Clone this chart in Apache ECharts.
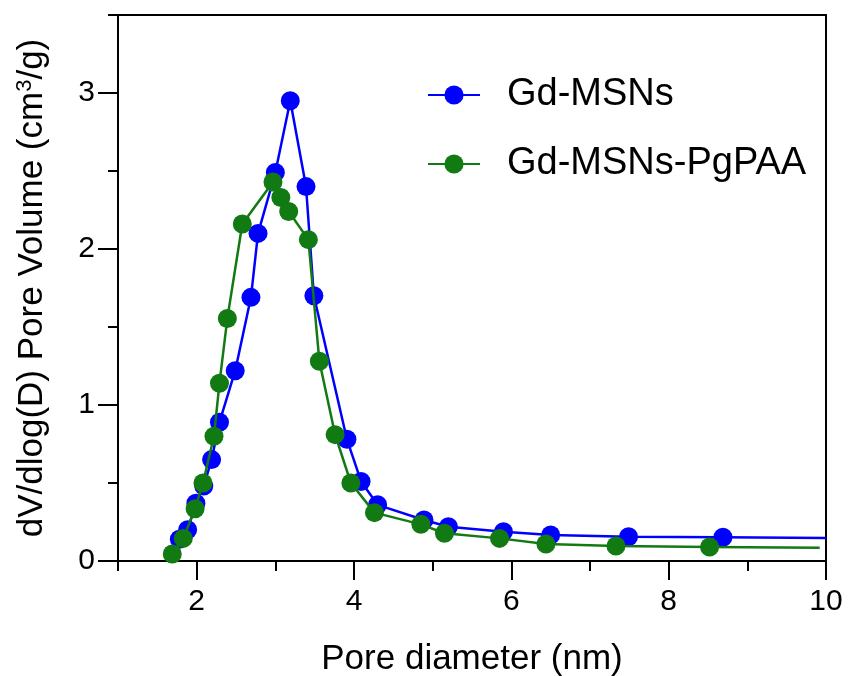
<!DOCTYPE html>
<html>
<head>
<meta charset="utf-8">
<script src="https://cdn.jsdelivr.net/npm/echarts@6/dist/echarts.min.js"></script>
<style>html,body{margin:0;padding:0;background:#fff}#c{width:850px;height:676px}</style>
</head>
<body>
<div id="c"></div>
<script>
// ---- data ----
const seriesNames = ['Gd-MSNs', 'Gd-MSNs-PgPAA'];
const msnX = [1.78, 1.885, 1.99, 2.09, 2.19, 2.29, 2.49, 2.69, 2.78, 3.00, 3.19, 3.39, 3.49, 3.91, 4.09, 4.30, 4.89, 5.20, 5.90, 6.50, 7.49, 8.69, 10.0];
const msnY = [0.14, 0.20, 0.37, 0.48, 0.65, 0.89, 1.22, 1.69, 2.10, 2.49, 2.95, 2.40, 1.70, 0.78, 0.51, 0.36, 0.263, 0.22, 0.188, 0.167, 0.156, 0.152, 0.147];
const pgX = [1.69, 1.83, 1.98, 2.08, 2.22, 2.29, 2.39, 2.58, 2.97, 3.07, 3.17, 3.42, 3.56, 3.76, 3.96, 4.26, 4.85, 5.15, 5.85, 6.44, 7.33, 8.52, 9.92];
const pgY = [0.045, 0.145, 0.335, 0.50, 0.80, 1.14, 1.555, 2.16, 2.43, 2.33, 2.24, 2.06, 1.28, 0.81, 0.50, 0.31, 0.235, 0.178, 0.145, 0.109, 0.096, 0.09, 0.085];
const xMajorTicks = [2, 4, 6, 8, 10];
const xMinorTicks = [1, 3, 5, 7, 9];
const yMajorTicks = [0, 1, 2, 3];
const yMinorTicks = [0.5, 1.5, 2.5, 3.5];
const xTitle = 'Pore diameter (nm)';
const yTitle = 'dV/dlog(D) Pore Volume (cm{sup|3}/g)';

// ---- chart ----
const FONT = "'Liberation Sans', Arial, sans-serif";
const colors = ['#0000ff', '#127a12'];
function build(xs, ys) {
  // last point is the curve's tail, drawn without a marker
  return xs.map((x, i) => i === xs.length - 1
    ? { value: [x, ys[i]], symbolSize: 0 }
    : [x, ys[i]]);
}
const chart = echarts.init(document.getElementById('c'), null, { renderer: 'canvas' });
const axisLine = { show: true, lineStyle: { color: '#000', width: 2 } };
chart.setOption({
  animation: false,
  backgroundColor: '#fff',
  textStyle: { fontFamily: FONT, color: '#000' },
  grid: {
    left: 118, right: 24, top: 15, bottom: 115, containLabel: false, outerBoundsMode: 'none',
    show: true, borderColor: '#000', borderWidth: 2, backgroundColor: 'transparent'
  },
  legend: {
    orient: 'vertical', left: 422, top: 71, itemWidth: 52, itemHeight: 24, itemGap: 31,
    textStyle: { fontSize: 38, fontFamily: FONT, color: '#000', padding: [0, 0, 0, 22] },
    data: seriesNames
  },
  xAxis: [
    {
      type: 'value', min: 1, max: 10, position: 'bottom',
      name: xTitle, nameLocation: 'middle', nameGap: 81,
      nameTextStyle: { fontSize: 35, fontFamily: FONT, color: '#000' },
      axisLine: axisLine,
      axisTick: { show: true, length: 19, lineStyle: { color: '#000', width: 2 }, customValues: xMajorTicks },
      axisLabel: { fontSize: 30, fontFamily: FONT, color: '#000', margin: 26, customValues: xMajorTicks },
      splitLine: { show: false }
    },
    {
      type: 'value', min: 1, max: 10, position: 'bottom', gridIndex: 0,
      axisLine: axisLine,
      axisTick: { show: true, length: 10, lineStyle: { color: '#000', width: 2 }, customValues: xMinorTicks },
      axisLabel: { show: false },
      splitLine: { show: false }
    }
  ],
  yAxis: [
    {
      type: 'value', min: 0, max: 3.5, position: 'left',
      name: yTitle, nameLocation: 'middle', nameGap: 68,
      nameTextStyle: {
        fontSize: 35, fontFamily: FONT, color: '#000',
        rich: { sup: { fontSize: 22, fontFamily: FONT, color: '#000', verticalAlign: 'top', lineHeight: 36 } }
      },
      axisLine: axisLine,
      axisTick: { show: true, length: 20, lineStyle: { color: '#000', width: 2 }, customValues: yMajorTicks },
      axisLabel: { fontSize: 30, fontFamily: FONT, color: '#000', margin: 23, customValues: yMajorTicks },
      splitLine: { show: false }
    },
    {
      type: 'value', min: 0, max: 3.5, position: 'left', gridIndex: 0,
      axisLine: axisLine,
      axisTick: { show: true, length: 10, lineStyle: { color: '#000', width: 2 }, customValues: yMinorTicks },
      axisLabel: { show: false },
      splitLine: { show: false }
    }
  ],
  series: [
    {
      name: seriesNames[0], type: 'line', xAxisIndex: 0, yAxisIndex: 0,
      data: build(msnX, msnY), symbol: 'circle', symbolSize: 19,
      lineStyle: { color: colors[0], width: 2.5 }, itemStyle: { color: colors[0] }, z: 2
    },
    {
      name: seriesNames[1], type: 'line', xAxisIndex: 0, yAxisIndex: 0,
      data: build(pgX, pgY), symbol: 'circle', symbolSize: 19,
      lineStyle: { color: colors[1], width: 2.5 }, itemStyle: { color: colors[1] }, z: 3
    }
  ]
});
</script>
</body>
</html>
